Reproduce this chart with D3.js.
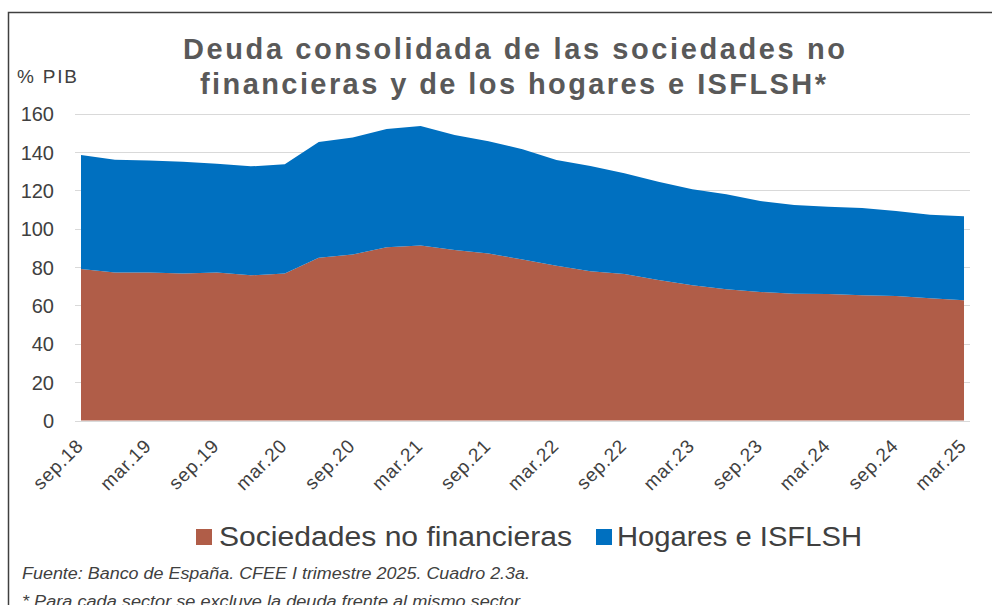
<!DOCTYPE html>
<html><head><meta charset="utf-8">
<script src="https://cdn.jsdelivr.net/npm/d3@7"></script>
<style>html,body{margin:0;padding:0;background:#fff;}svg{display:block;}</style>
</head><body><svg id="c" width="992" height="605"></svg>
<script>
const quarters = ["sep.18","dic.18","mar.19","jun.19","sep.19","dic.19","mar.20","jun.20","sep.20","dic.20","mar.21","jun.21","sep.21","dic.21","mar.22","jun.22","sep.22","dic.22","mar.23","jun.23","sep.23","dic.23","mar.24","jun.24","sep.24","dic.24","mar.25"];
const sociedades = [79.0,77.2,77.2,76.7,77.1,75.7,76.6,84.9,86.6,90.3,91.2,88.9,87.0,84.0,80.7,77.8,76.4,73.3,70.5,68.4,67.0,66.1,66.0,65.3,64.9,63.7,62.7];
const total = [138.4,136.0,135.5,134.9,133.9,132.5,133.6,145.2,147.6,152.0,153.5,148.8,145.6,141.4,135.8,132.7,128.9,124.5,120.5,117.9,114.4,112.4,111.5,110.8,109.2,107.3,106.5];
const hogares = total.map((t,i)=>+(t - sociedades[i]).toFixed(1));
const yTicks = [0,20,40,60,80,100,120,140,160];
const seriesNames = ["Sociedades no financieras","Hogares e ISFLSH"];
const colors = ["#B05D48","#0070C0"];

const svg = d3.select("#c");
const font = "'Liberation Sans', Arial, Helvetica, sans-serif";

// frame
svg.append("path").attr("d","M8.5,605 L8.5,12.5 L992,12.5").attr("fill","none").attr("stroke","#404040").attr("stroke-width",1.5);

const x = d3.scaleLinear().domain([0, quarters.length-1]).range([81, 964]);
const y = d3.scaleLinear().domain([0,160]).range([420.5, 113.6]);

// gridlines
svg.append("g").selectAll("line").data(yTicks).join("line")
  .attr("x1",75).attr("x2",970)
  .attr("y1",d=>Math.round(y(d))+0.5).attr("y2",d=>Math.round(y(d))+0.5)
  .attr("stroke","#D9D9D9").attr("stroke-width",1);

// stacked areas
const rows = quarters.map((q,i)=>({i, s:sociedades[i], h:hogares[i]}));
const stack = d3.stack().keys(["s","h"]);
const layers = stack(rows);
const area = d3.area().x(d=>x(d.data.i)).y0(d=>y(d[0])).y1(d=>y(d[1]));
svg.append("g").selectAll("path").data(layers).join("path")
  .attr("d",area).attr("fill",(d,i)=>colors[i]);

// y axis labels
const yAxis = d3.axisLeft(y).tickValues(yTicks).tickSize(0).tickPadding(0);
const gy = svg.append("g").attr("transform","translate(54,0)").call(yAxis);
gy.select(".domain").remove();
gy.selectAll("text").attr("font-family",font).attr("font-size",20).attr("fill","#404040").attr("dy","0.36em");

// x axis labels
const labelIdx = quarters.map((q,i)=>i).filter(i=>i%2===0);
const xAxis = d3.axisBottom(x).tickValues(labelIdx).tickFormat(i=>quarters[i]).tickSize(0).tickPadding(0);
const gx = svg.append("g").attr("transform","translate(0,420)").call(xAxis);
gx.select(".domain").remove();
gx.selectAll("text")
  .attr("font-family",font).attr("font-size",19).attr("fill","#404040")
  .attr("letter-spacing","0.8px")
  .attr("text-anchor","end").attr("dy",0).attr("y",0)
  .attr("transform","translate(3,27) rotate(-45)");

// y unit
svg.append("text").attr("x",17).attr("y",83).attr("font-family",font).attr("font-size",19).attr("fill","#404040")
  .attr("textLength",60).attr("lengthAdjust","spacing").text("% PIB");

// title
const title = ["Deuda consolidada de las sociedades no","financieras y de los hogares e ISFLSH*"];
svg.append("text").attr("x",514).attr("y",59).attr("text-anchor","middle")
  .attr("font-family",font).attr("font-weight","bold").attr("font-size",29).attr("fill","#595959")
  .attr("textLength",662).attr("lengthAdjust","spacing").text(title[0]);
svg.append("text").attr("x",513).attr("y",94).attr("text-anchor","middle")
  .attr("font-family",font).attr("font-weight","bold").attr("font-size",29).attr("fill","#595959")
  .attr("textLength",626).attr("lengthAdjust","spacing").text(title[1]);

// legend
const leg = [{x:196, tx:219, w:353},{x:596, tx:617, w:245}];
seriesNames.forEach((n,i)=>{
  svg.append("rect").attr("x",leg[i].x).attr("y",529).attr("width",16).attr("height",16).attr("fill",colors[i]);
  svg.append("text").attr("x",leg[i].tx).attr("y",546).attr("font-family",font).attr("font-size",27).attr("fill","#404040")
    .attr("textLength",leg[i].w).attr("lengthAdjust","spacingAndGlyphs").text(n);
});

// footnotes
svg.append("text").attr("x",22).attr("y",579).attr("font-family",font).attr("font-style","italic").attr("font-size",16).attr("fill","#404040")
  .attr("textLength",508).attr("lengthAdjust","spacingAndGlyphs")
  .text("Fuente: Banco de España. CFEE I trimestre 2025. Cuadro 2.3a.");
svg.append("text").attr("x",22).attr("y",607).attr("font-family",font).attr("font-style","italic").attr("font-size",16).attr("fill","#404040")
  .attr("textLength",498).attr("lengthAdjust","spacingAndGlyphs")
  .text("* Para cada sector se excluye la deuda frente al mismo sector");
</script></body></html>
